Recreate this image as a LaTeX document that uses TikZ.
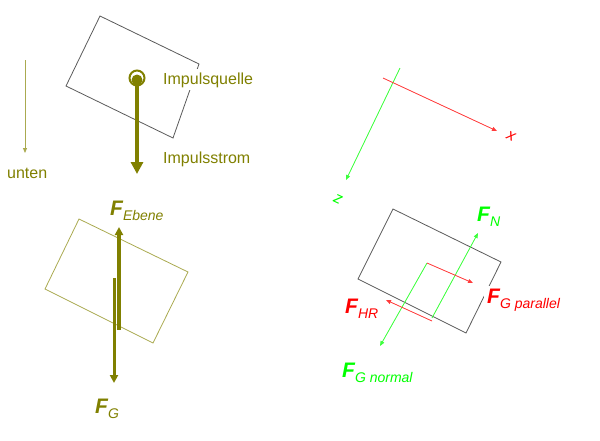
\documentclass[tikz,border=0pt]{standalone}
\usepackage{fontspec}
\setmainfont{Liberation Sans}
\usetikzlibrary{arrows.meta}
\definecolor{olv}{RGB}{128,128,0}
\definecolor{olvl}{RGB}{170,170,80}
\definecolor{grn}{RGB}{0,255,0}
\definecolor{grnl}{RGB}{60,255,60}
\definecolor{rd}{RGB}{255,0,0}
\definecolor{rdl}{RGB}{255,60,60}
\definecolor{gry}{RGB}{90,90,90}
\newcommand{\forcelab}[1]{{\fontsize{21}{21}\selectfont\bfseries\itshape F}{\fontsize{14}{14}\selectfont\itshape\raisebox{-5pt}{#1}}}
\begin{document}
\begin{tikzpicture}[x=1pt,y=-1pt,
  body/.style={draw=gry, line width=0.8pt},
  bodyol/.style={draw=olvl, line width=0.8pt},
  thinarrow/.style={-{Triangle[length=5pt,width=4pt]}, line width=0.8pt},
  bigarrow/.style={draw=olv, line width=4pt, -{Triangle[length=12pt,width=12pt]}},
  midarrow/.style={draw=olv, -{Triangle[length=8pt,width=8pt]}},
  flabel/.style={anchor=base west, inner sep=0pt},
  txt/.style={font=\fontsize{16}{16}\selectfont, text=olv, anchor=base west, inner sep=0pt},
  axlab/.style={font=\fontsize{16}{16}\selectfont\itshape, rotate=-25}]
\useasboundingbox (0,0) rectangle (600,440);

% ---------- top left ----------
\draw[body] (100,16) -- (199,64) -- (173,138) -- (66,86) -- cycle;
\node[txt, fill=white, inner sep=3pt] (quelle) at (160,84) {Impulsquelle};
\node[txt] (strom) at (163,163) {Impulsstrom};
\node[txt] (unten) at (7,178) {unten};
\coordinate (u1) at (25,60);
\coordinate (u2) at (25,153);
\draw[thinarrow, draw=olvl, fill=olvl] (u1) -- (u2);
\coordinate (src) at (137,80);
\coordinate (srcend) at (137,174);
\draw[olv, line width=2pt] (137,78) circle (7.5);
\fill[olv] (src) circle (5.5);
\draw[bigarrow, fill=olv] (src) -- (srcend);

% ---------- bottom left ----------
\draw[bodyol] (79,219) -- (188,272) -- (153,343) -- (45,289) -- cycle;
\coordinate (e1) at (119,330);
\coordinate (e2) at (119,227);
\coordinate (g1) at (114,278);
\coordinate (g2) at (114,383);
\draw[midarrow, line width=4pt, fill=olv] (e1) -- (e2);
\draw[midarrow, line width=3pt, fill=olv] (g1) -- (g2);
\node[flabel, text=olv] (febene) at (110,215) {\forcelab{Ebene}};
\node[flabel, text=olv] (fg) at (95,413) {\forcelab{G}};

% ---------- top right: axes ----------
\coordinate (z1) at (400,68);
\coordinate (z2) at (346,180);
\coordinate (x1) at (383,78);
\coordinate (x2) at (497,131);
\draw[thinarrow, draw=grnl, fill=grnl] (z1) -- (z2);
\draw[thinarrow, draw=rdl, fill=rdl] (x1) -- (x2);
\node[axlab, text=grn] (zl) at (338,199) {z};
\node[axlab, text=rd] (xl) at (511,136) {x};

% ---------- bottom right ----------
\draw[body] (393,209) -- (501,262) -- (466,333) -- (358,279) -- cycle;
\node[flabel, text=rd, fill=white, inner sep=3pt] (fgpar) at (484,303) {\forcelab{G parallel}};
\coordinate (c0) at (427,263);
\coordinate (n1) at (432,318);
\coordinate (nt) at (478,233);
\coordinate (gn) at (380,346);
\coordinate (pt) at (473,283);
\coordinate (hr1) at (432,321);
\coordinate (hrt) at (386,300);
\draw[thinarrow, draw=grnl, fill=grnl] (n1) -- (nt);
\draw[thinarrow, draw=grnl, fill=grnl] (c0) -- (gn);
\draw[thinarrow, draw=rdl, fill=rdl] (c0) -- (pt);
\draw[thinarrow, draw=rdl, fill=rdl] (hr1) -- (hrt);
\node[flabel, text=grn] (fn) at (477,221) {\forcelab{N}};
\node[flabel, text=rd] (fhr) at (345,313) {\forcelab{HR}};
\node[flabel, text=grn] (fgn) at (342,377) {\forcelab{G normal}};
\end{tikzpicture}
\end{document}
